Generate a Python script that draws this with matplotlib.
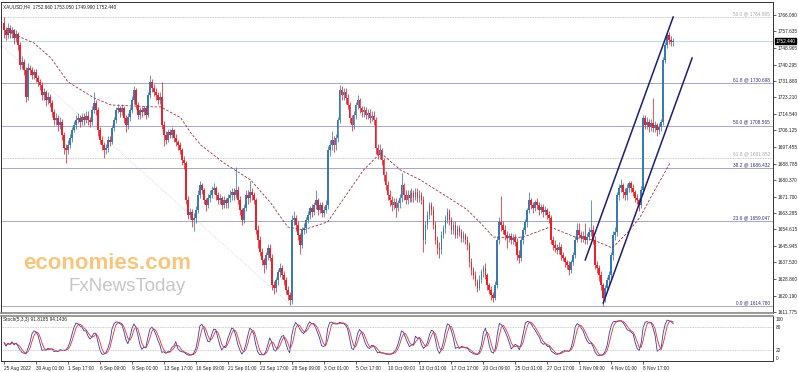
import matplotlib
matplotlib.use('Agg')
import matplotlib.pyplot as plt
import matplotlib.transforms as mtransforms
import numpy as np
import pandas as pd

plt.rcParams['font.family'] = ['Liberation Sans', 'DejaVu Sans']

# XAUUSD H4 candles, open of bar i = close of bar i-1
first_open = 1762.0
closes = [
    1758.3, 1755.7, 1759.3, 1756.7, 1758.0, 1754.0, 1756.0, 1750.5, 1740.0, 1741.5, 1737.5, 1723.5, 1738.5, 1737.5, 1735.0, 1736.5,
    1733.3, 1731.3, 1729.7, 1724.5, 1726.0, 1722.0, 1723.5, 1720.4, 1715.7, 1711.5, 1712.6, 1709.0, 1710.5, 1703.7, 1697.0, 1696.0,
    1698.5, 1702.0, 1706.3, 1708.9, 1711.5, 1712.6, 1710.5, 1713.0, 1711.5, 1713.6, 1711.5, 1710.5, 1716.7, 1720.4, 1716.7, 1706.3,
    1701.0, 1698.5, 1696.0, 1697.0, 1701.0, 1700.0, 1707.4, 1711.5, 1716.7, 1717.7, 1715.7, 1717.7, 1712.6, 1709.0, 1713.0, 1716.7,
    1722.0, 1727.0, 1719.3, 1714.0, 1716.7, 1715.7, 1717.7, 1714.0, 1724.5, 1731.3, 1728.0, 1726.0, 1724.5, 1722.0, 1723.5, 1709.0,
    1703.7, 1701.0, 1705.3, 1703.7, 1706.3, 1702.0, 1700.0, 1698.5, 1696.0, 1690.7, 1689.0, 1670.0, 1662.2, 1663.7, 1659.6, 1660.6,
    1664.8, 1672.6, 1677.7, 1675.1, 1670.0, 1667.4, 1671.0, 1672.6, 1675.1, 1676.2, 1672.6, 1670.0, 1671.0, 1667.4, 1670.0, 1668.4,
    1671.0, 1672.6, 1674.0, 1672.6, 1675.0, 1670.0, 1664.8, 1659.6, 1665.8, 1672.6, 1671.0, 1674.0, 1672.6, 1670.0, 1654.4, 1649.2,
    1643.0, 1638.8, 1636.2, 1641.4, 1645.0, 1640.0, 1625.8, 1624.2, 1628.4, 1632.5, 1634.6, 1631.0, 1628.4, 1623.2, 1620.6, 1618.0,
    1659.6, 1660.6, 1657.0, 1651.8, 1646.6, 1654.4, 1655.4, 1659.6, 1662.2, 1665.8, 1663.7, 1667.4, 1670.0, 1664.8, 1667.4, 1663.2,
    1664.8, 1667.4, 1696.0, 1698.5, 1701.0, 1698.5, 1702.0, 1711.5, 1727.0, 1724.5, 1726.0, 1723.0, 1719.3, 1712.6, 1709.0, 1714.0,
    1719.3, 1722.0, 1717.7, 1715.7, 1716.7, 1714.0, 1715.2, 1712.6, 1713.6, 1711.5, 1697.0, 1693.3, 1696.0, 1690.7, 1683.0, 1677.7,
    1672.6, 1670.0, 1667.4, 1669.0, 1665.8, 1668.4, 1671.0, 1677.7, 1672.6, 1670.0, 1672.6, 1671.0, 1673.6, 1671.5, 1674.0, 1671.0,
    1672.6, 1670.0, 1649.2, 1657.0, 1662.2, 1667.4, 1664.8, 1657.0, 1649.2, 1645.0, 1644.0, 1651.8, 1655.4, 1659.6, 1663.7, 1659.6,
    1654.4, 1657.0, 1651.8, 1655.4, 1653.3, 1650.2, 1651.8, 1649.2, 1646.6, 1637.7, 1633.6, 1631.0, 1627.4, 1624.2, 1628.4, 1632.5,
    1634.6, 1631.0, 1625.8, 1623.2, 1620.6, 1619.0, 1625.8, 1649.2, 1658.5, 1657.0, 1654.4, 1651.8, 1650.2, 1651.3, 1649.2, 1650.2,
    1648.0, 1641.4, 1639.8, 1649.2, 1654.4, 1658.5, 1664.8, 1670.0, 1667.4, 1665.8, 1669.0, 1667.4, 1664.8, 1666.3, 1663.7, 1664.8,
    1662.2, 1660.6, 1649.2, 1646.6, 1645.0, 1644.0, 1645.5, 1641.4, 1639.8, 1637.7, 1636.2, 1633.6, 1637.7, 1641.4, 1649.2, 1654.4,
    1651.8, 1650.2, 1651.3, 1649.2, 1650.7, 1653.3, 1654.4, 1649.2, 1636.2, 1634.6, 1631.0, 1625.8, 1619.0, 1624.2, 1628.4, 1631.0,
    1641.4, 1651.8, 1653.3, 1672.6, 1676.2, 1677.7, 1674.0, 1672.6, 1676.2, 1678.8, 1676.2, 1674.0, 1671.0, 1670.0, 1667.4, 1675.1,
    1712.6, 1709.0, 1710.5, 1707.9, 1710.0, 1707.4, 1709.0, 1706.3, 1707.9, 1710.5, 1742.7, 1750.5, 1755.7, 1753.0, 1752.0, 1752.44,
]
highs = [
    1765, 1760, 1762, 1761, 1760, 1759, 1758, 1757, 1752, 1745, 1743, 1739, 1741, 1740, 1739, 1738,
    1738, 1735, 1733, 1731, 1728, 1727, 1726, 1725, 1722, 1717, 1715, 1714, 1713, 1712, 1705, 1699,
    1701, 1704, 1708, 1711, 1714, 1715, 1714, 1715, 1715, 1716, 1716, 1713, 1719, 1726, 1722, 1718,
    1708, 1703, 1700, 1699, 1703, 1703, 1709, 1713, 1718, 1720, 1719, 1720, 1719, 1714, 1715, 1718,
    1724, 1729, 1728, 1721, 1718, 1718, 1719, 1719, 1726, 1735, 1733, 1730, 1728, 1726, 1726, 1731,
    1711, 1706, 1707, 1707, 1708, 1707, 1704, 1701, 1700, 1697, 1693, 1690, 1672, 1666, 1665, 1663,
    1667, 1675, 1680, 1679, 1676, 1671, 1673, 1675, 1677, 1679, 1677, 1674, 1673, 1672, 1672, 1671,
    1673, 1675, 1676, 1676, 1687, 1677, 1672, 1666, 1668, 1675, 1675, 1680, 1676, 1674, 1671, 1657,
    1651, 1645, 1640, 1643, 1647, 1647, 1642, 1628, 1630, 1634, 1637, 1636, 1633, 1630, 1625, 1622,
    1662, 1664, 1662, 1659, 1653, 1656, 1658, 1661, 1664, 1667, 1668, 1669, 1675, 1671, 1669, 1669,
    1667, 1670, 1698, 1701, 1706, 1703, 1704, 1713, 1729.7, 1729, 1728, 1728, 1725, 1721, 1714, 1716,
    1721, 1724.5, 1723, 1719, 1719, 1718, 1717, 1717, 1716, 1716, 1713, 1699, 1699, 1697, 1692, 1685,
    1680, 1675, 1672, 1671, 1671, 1670, 1673, 1684, 1679, 1675, 1675, 1675, 1676, 1675, 1676, 1676,
    1675, 1674, 1672, 1659, 1664, 1669, 1669, 1667, 1659, 1651, 1648, 1654, 1657, 1662, 1666, 1665,
    1661, 1659, 1659, 1657, 1657, 1655, 1654, 1653, 1651, 1648, 1640, 1635, 1633, 1629, 1631, 1634,
    1636, 1637, 1632, 1627, 1625, 1622, 1628, 1651, 1661, 1672, 1659, 1657, 1654, 1653, 1653, 1652,
    1652, 1650, 1644, 1651, 1656, 1660, 1666, 1674, 1671, 1669, 1670, 1671, 1669, 1668, 1668, 1667,
    1666, 1664, 1662, 1651, 1649, 1647, 1648, 1647, 1643, 1641, 1639, 1638, 1639, 1643, 1651, 1658,
    1658, 1654, 1654, 1658, 1653, 1656, 1670, 1657, 1651, 1638, 1636, 1633, 1627, 1626, 1630, 1633,
    1643, 1654, 1656, 1674, 1678, 1681, 1679, 1676, 1678, 1680, 1680, 1678, 1675, 1673, 1671, 1677,
    1714, 1714, 1713, 1712, 1712, 1723, 1711, 1710, 1710, 1712, 1744, 1752, 1757, 1757, 1755, 1754,
]
lows = [
    1754, 1753, 1754, 1754, 1754, 1751, 1752, 1748, 1738, 1738, 1735, 1721, 1722, 1735, 1733, 1733,
    1731, 1729, 1727, 1722, 1722, 1719, 1720, 1718, 1713, 1709, 1709, 1706, 1707, 1701, 1694, 1689,
    1694, 1697, 1700, 1705, 1707, 1710, 1708, 1709, 1709, 1710, 1709, 1708, 1709, 1715, 1714, 1703,
    1699, 1696, 1692, 1694, 1695, 1698, 1699, 1706, 1710, 1715, 1713, 1714, 1710, 1705, 1707, 1711,
    1715, 1720, 1717, 1712, 1712, 1713, 1714, 1712, 1713, 1723, 1726, 1724, 1722, 1720, 1720, 1707,
    1698, 1699, 1700, 1702, 1702, 1700, 1698, 1696, 1694, 1688, 1686, 1668, 1660, 1660, 1656, 1654,
    1658, 1663, 1671, 1673, 1668, 1664, 1666, 1669, 1671, 1673, 1670, 1668, 1668, 1665, 1666, 1666,
    1666, 1669, 1670, 1670, 1671, 1668, 1662, 1657, 1658, 1664, 1668, 1669, 1670, 1668, 1652, 1645,
    1641, 1636, 1632, 1634, 1639, 1638, 1623, 1621, 1622, 1626, 1630, 1629, 1626, 1621, 1618, 1615.3,
    1616, 1657, 1654, 1649, 1642, 1645, 1652, 1653, 1658, 1660, 1661, 1662, 1665, 1662, 1663, 1661,
    1661, 1663, 1665, 1693, 1696, 1695, 1696, 1700, 1710, 1722, 1722, 1720, 1717, 1710, 1706, 1707,
    1712, 1717, 1715, 1713, 1713, 1712, 1712, 1710, 1711, 1709, 1694, 1691, 1691, 1688, 1680, 1675,
    1670, 1667, 1664, 1665, 1661, 1664, 1666, 1669, 1670, 1668, 1668, 1669, 1669, 1669, 1670, 1669,
    1669, 1668, 1643, 1647, 1655, 1660, 1662, 1655, 1647, 1642, 1640, 1642, 1650, 1653, 1658, 1657,
    1652, 1652, 1650, 1650, 1651, 1648, 1648, 1647, 1644, 1635, 1631, 1629, 1625, 1622, 1623, 1627,
    1630, 1629, 1623, 1621, 1618, 1617, 1618, 1624, 1647, 1654, 1652, 1649, 1645, 1648, 1647, 1647,
    1646, 1639, 1637, 1638, 1647, 1652, 1656, 1663, 1665, 1663, 1664, 1665, 1662, 1663, 1661, 1662,
    1660, 1658, 1647, 1644, 1643, 1642, 1642, 1639, 1638, 1635, 1634, 1631, 1632, 1636, 1640, 1648,
    1650, 1648, 1648, 1647, 1647, 1649, 1651, 1647, 1634, 1632, 1628, 1623, 1614.8, 1617, 1622, 1626,
    1629, 1639, 1649, 1651, 1670, 1674, 1671, 1670, 1670, 1674, 1674, 1672, 1669, 1668, 1664, 1666,
    1673, 1707, 1707, 1705, 1706, 1705, 1705, 1703, 1704, 1706, 1709, 1741, 1749, 1751, 1750, 1750,
]

# dashed moving average, read at sparse bars
ma_bars = [3, 8, 15, 23.5, 32, 45, 53.5, 75, 78.5, 88.5, 93.5, 98.5, 110, 123.5, 133.5, 142, 150,
           162, 172, 180, 188.5, 198.5, 208.5, 222, 232, 238.5, 245, 252, 260, 273.5, 287, 295,
           304.5, 312, 318.5, 325, 333.5]
ma_vals = [1757.0, 1754.6, 1751.5, 1743.7, 1731.3, 1723.0, 1719.3, 1718.3, 1718.3, 1712.6, 1704.8,
           1698.5, 1689.2, 1680.3, 1668.4, 1655.9, 1654.4, 1658.5, 1673.6, 1685.5, 1694.4, 1685.5,
           1680.3, 1671.5, 1664.8, 1658.0, 1650.7, 1650.2, 1650.7, 1655.9, 1650.2, 1649.2, 1645.0,
           1652.8, 1661.1, 1673.6, 1689.2]

# rising channel (bar, price)
channel_upper = [(291, 1638.8), (335, 1765.0)]
channel_lower = [(300, 1616.4), (344.5, 1743.7)]
old_fib_diag = [(-1.5, 1750.5), (143.5, 1615.4)]

fib_levels = ['0.0', '23.6', '38.2', '50.0', '61.8']
fib_prices = [1614.780, 1659.047, 1686.432, 1708.565, 1730.698]
old_fib_levels = ['61.8', '50.0']
old_fib_prices = [1691.852, 1764.985]

last_price = 1752.440
title = 'XAUUSD,H4  1752.660 1753.050 1749.990 1752.440'
stoch_title = 'Stoch(5,3,3) 91.8185 94.1436'

price_ticks = [1766.080, 1757.635, 1748.965, 1740.295, 1731.880, 1723.210, 1714.540, 1706.125,
               1697.455, 1688.785, 1680.370, 1671.700, 1663.285, 1654.615, 1645.945, 1637.530,
               1628.860, 1620.190, 1611.775]
date_labels = ['25 Aug 2022', '30 Aug 01:00', '1 Sep 17:00', '6 Sep 09:00', '9 Sep 01:00',
               '13 Sep 17:00', '16 Sep 09:00', '21 Sep 01:00', '23 Sep 17:00', '28 Sep 09:00',
               '3 Oct 01:00', '5 Oct 17:00', '10 Oct 09:00', '13 Oct 01:00', '17 Oct 17:00',
               '20 Oct 09:00', '25 Oct 01:00', '27 Oct 17:00', '1 Nov 09:00', '4 Nov 01:00',
               '8 Nov 17:00']

BULL = '#3a7ab4'
BEAR = '#ee2028'
NAVY = '#1c1c78'
FIB = '#30307a'
FS = 3.4

c = np.array(closes)
h = np.array(highs, dtype=float)
l = np.array(lows, dtype=float)
o = np.concatenate([[first_open], c[:-1]])
x = np.arange(len(c))

fig = plt.figure(figsize=(7.98, 3.72), dpi=100)
ax = fig.add_axes([0.0013, 0.1586, 0.9674, 0.836])
axs = fig.add_axes([0.0013, 0.0296, 0.9674, 0.1209])

# candles
up = c >= o
cols = np.where(up, BULL, BEAR)
ax.vlines(x, l, h, colors=cols, linewidth=0.55, zorder=3)
body_lo = np.minimum(o, c)
body_h = np.maximum(np.abs(c - o), 0.5)
ax.bar(x, body_h, bottom=body_lo, width=0.9, color=cols, linewidth=0, zorder=4)

ax.plot(ma_bars, ma_vals, color='#9c2f3a', lw=0.6, dashes=(3, 2), zorder=5)

# horizontal levels
trans = mtransforms.blended_transform_factory(ax.transAxes, ax.transData)
for lev, p in zip(fib_levels, fib_prices):
    ax.axhline(p, color=FIB, lw=0.6, ls=(0, (1.2, 1.2)), zorder=2)
    ax.text(0.996, p + 0.5, f'{lev} @ {p:.3f}', transform=trans, ha='right', va='bottom',
            fontsize=FS, color=FIB)
for lev, p in zip(old_fib_levels, old_fib_prices):
    ax.axhline(p, color='#a9a9a9', lw=0.5, ls=(0, (1.2, 1.2)), zorder=2)
    ax.text(0.996, p + 0.5, f'{lev} @ {p:.3f}', transform=trans, ha='right', va='bottom',
            fontsize=FS, color='#a9a9a9')
ax.plot(*zip(*old_fib_diag), color='#c8c8c8', lw=0.5, ls=(0, (1, 1.5)), zorder=2)
ax.axhline(last_price, color='#b5dde0', lw=0.7, zorder=2)

ax.plot(*zip(*channel_upper), color=NAVY, lw=1.1, zorder=6)
ax.plot(*zip(*channel_lower), color=NAVY, lw=1.1, zorder=6)

ax.text(0.003, 0.992, title, transform=ax.transAxes, ha='left', va='top', fontsize=FS, color='#222222')

# watermark
ax.text(0.028, 0.142, 'economies.com', transform=ax.transAxes, fontsize=16, color='#f5b350',
        alpha=0.75, fontweight='bold', zorder=1)
ax.text(0.088, 0.072, 'FxNewsToday', transform=ax.transAxes, fontsize=13.5, color='#b8b8b8',
        alpha=0.8, zorder=1)

ax.set_xlim(-1.5, 385)
ax.set_ylim(1611.2, 1772.8)
ax.yaxis.tick_right()
ax.set_yticks(price_ticks)
ax.set_yticklabels([f'{p:.3f}' for p in price_ticks])
ax.tick_params(axis='y', labelsize=FS, length=2, width=0.5, pad=1, colors='#222222')
ax.set_xticks([])
ax.text(1.003, last_price, f'{last_price:.3f}', transform=trans, ha='left', va='center',
        fontsize=FS, color='white', zorder=10,
        bbox=dict(boxstyle='square,pad=0.15', fc='black', ec='black'))

# stochastic (5,3,3) computed from the candles
cs, hs, ls_ = pd.Series(c), pd.Series(h), pd.Series(l)
ll = ls_.rolling(5, min_periods=1).min()
hh = hs.rolling(5, min_periods=1).max()
k = (cs - ll).rolling(3, min_periods=1).sum() / (hh - ll).rolling(3, min_periods=1).sum() * 100
d = k.rolling(3, min_periods=1).mean()
axs.plot(x, k, color='#3a3aa0', lw=0.6)
axs.plot(x, d, color='#e0303a', lw=0.6)
for lvl in (80, 20):
    axs.axhline(lvl, color='#b0b0b0', lw=0.5, ls=(0, (1.2, 1.2)))
axs.text(0.003, 0.97, stoch_title, transform=axs.transAxes,
         ha='left', va='top', fontsize=FS, color='#222222')
axs.set_xlim(-1.5, 385)
axs.set_ylim(-7.7, 107.7)
axs.yaxis.tick_right()
axs.set_yticks([0, 20, 80, 100])
axs.set_yticklabels(['0', '20', '80', '100'])
axs.tick_params(axis='y', labelsize=FS, length=0, pad=2, colors='#222222')
axs.set_xticks(np.arange(len(date_labels)) * 16)
axs.set_xticklabels(date_labels, ha='left')
axs.tick_params(axis='x', labelsize=FS, length=2, width=0.5, pad=1.5, colors='#222222')

for a in (ax, axs):
    for s in a.spines.values():
        s.set_linewidth(0.7)
        s.set_color('#333333')
ax.spines['bottom'].set_color('#888888')
ax.spines['bottom'].set_linewidth(1.2)
axs.spines['top'].set_color('#888888')
axs.spines['top'].set_linewidth(1.2)

fig.savefig('out.png', dpi=100)
